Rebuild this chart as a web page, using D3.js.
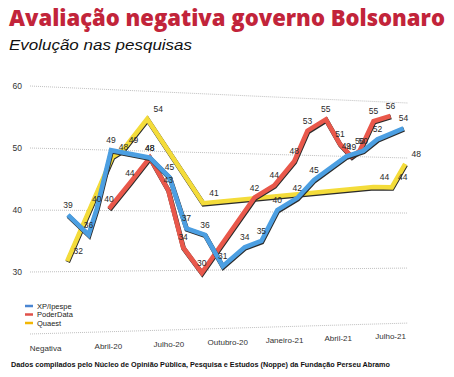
<!DOCTYPE html>
<html>
<head>
<meta charset="utf-8">
<script src="https://cdn.jsdelivr.net/npm/d3@7"></script>
<style>
  body { margin: 0; background: #fff; }
  svg { display: block; }
</style>
</head>
<body>
<div class="container"></div>
<script>
(function() {
  // Chart data
  var tickDates = ['2020-01-01', '2020-04-01', '2020-07-01', '2020-10-01', '2021-01-01', '2021-04-01', '2021-07-01'];
  var tickNames = ['Negativa', 'Abril-20', 'Julho-20', 'Outubro-20', 'Janeiro-21', 'Abril-21', 'Julho-21'];
  var yTickValues = [30, 40, 50, 60];
  var gridValues = [20, 30, 40, 50, 60];
  var seriesNames = ['XP/Ipespe', 'PoderData', 'Quaest'];

  var xpDates = ['2020-02-02', '2020-03-03', '2020-03-15', '2020-04-05', '2020-06-02', '2020-07-02', '2020-07-28',
    '2020-08-26', '2020-09-23', '2020-10-28', '2020-11-24', '2020-12-20', '2021-01-22', '2021-02-19',
    '2021-04-15', '2021-05-14', '2021-06-08', '2021-07-24'];
  var xpValues = [39, 36, 40, 49, 48, 45, 37, 36, 31, 34, 35, 40, 42, 45, 49, 50, 52, 54];

  var poderDates = ['2020-04-02', '2020-05-03', '2020-06-02', '2020-06-30', '2020-07-23', '2020-08-21', '2020-11-13',
    '2020-12-15', '2021-01-17', '2021-02-08', '2021-03-11', '2021-04-04', '2021-04-24', '2021-05-08',
    '2021-06-01', '2021-07-01'];
  var poderValues = [40, 44, 48, 43, 34, 30, 42, 44, 48, 53, 55, 51, 49, 50, 55, 56];

  var quaestDates = ['2020-02-01', '2020-04-07', '2020-04-22', '2020-05-29', '2020-08-23', '2021-06-01', '2021-07-03', '2021-07-27'];
  var quaestValues = [32, 48, 49, 54, 41, 44, 44, 48];

  // Settings
  var options = {
    width: 454,
    height: 377,
    left: 30,      // screen x of the near edge of the wall
    depth: 426,    // horizontal size before the perspective shrink
    shrink: 0.127, // how much the far side shrinks
    horizon: 237
  };

  var parse = d3.timeParse('%Y-%m-%d');

  var t = d3.scaleTime()
    .domain([new Date(2019, 11, 10), new Date(2021, 7, 1)])
    .range([0, 1]);

  // back wall and the ribbons standing a bit in front of it
  var yWall = d3.scaleLinear().domain([20, 60]).range([334, 86]);
  var yRibbon = d3.scaleLinear().domain([20, 60]).range([341.3, 74.7]);

  var project = function(tt, yy) {
    var s = 1 + options.shrink * tt;
    return [options.left + options.depth * tt / s, options.horizon + (yy - options.horizon) / s];
  };

  var series = [
    { name: seriesNames[2], dates: quaestDates, values: quaestValues, color: '#f4dc3a', legend: '#f2b705', dx: 11 },
    { name: seriesNames[1], dates: poderDates, values: poderValues, color: '#e9584b', legend: '#e0514a', dx: 0 },
    { name: seriesNames[0], dates: xpDates, values: xpValues, color: '#4c9fe2', legend: '#4a86d2', dx: 0 }
  ];

  var svg = d3.select('div.container').append('svg')
    .attr('width', options.width)
    .attr('height', options.height)
    .style('font-family', '"Liberation Sans", Arial, sans-serif');

  // Titles
  svg.append('text')
    .attr('x', 9).attr('y', 26)
    .attr('textLength', 436).attr('lengthAdjust', 'spacingAndGlyphs')
    .style('font-family', '"Open Sans", "DejaVu Sans", sans-serif')
    .style('font-weight', 800).style('font-size', '22px')
    .attr('fill', '#c2243a')
    .text('Avaliação negativa governo Bolsonaro');

  svg.append('text')
    .attr('x', 9).attr('y', 50)
    .attr('textLength', 183).attr('lengthAdjust', 'spacingAndGlyphs')
    .style('font-style', 'italic').style('font-size', '15.5px')
    .attr('fill', '#111')
    .text('Evolução nas pesquisas');

  // Gridlines on the wall
  var grid = svg.append('g');
  gridValues.forEach(function(v) {
    var a = project(0, yWall(v)), b = project(1, yWall(v));
    grid.append('line')
      .attr('x1', a[0]).attr('y1', a[1])
      .attr('x2', b[0]).attr('y2', b[1])
      .attr('stroke', '#b8b8b8')
      .attr('stroke-width', 0.9)
      .attr('stroke-dasharray', '1,1');
  });

  // Y axis labels
  svg.append('g').selectAll('text')
    .data(yTickValues)
    .enter().append('text')
    .attr('x', 22)
    .attr('y', function(d) { return project(0, yWall(d))[1]; })
    .attr('text-anchor', 'end')
    .attr('dominant-baseline', 'central')
    .style('font-size', '8.5px')
    .attr('fill', '#333')
    .text(function(d) { return d; });

  // X axis labels, along the floor in perspective
  svg.append('g').selectAll('text')
    .data(tickDates)
    .enter().append('text')
    .attr('x', function(d) { return project(t(parse(d)), yWall(17.5))[0]; })
    .attr('y', function(d) { return project(t(parse(d)), yWall(17.5))[1] - 0.5; })
    .attr('text-anchor', 'middle')
    .attr('dominant-baseline', 'central')
    .style('font-size', '8px')
    .attr('fill', '#333')
    .text(function(d, i) { return tickNames[i]; });

  // Ribbons
  var line = d3.line()
    .x(function(d) { return d.p[0]; })
    .y(function(d) { return d.p[1]; });

  series.forEach(function(s) {
    s.points = s.dates.map(function(d, i) {
      return { v: s.values[i], p: project(t(parse(d)), yRibbon(s.values[i])) };
    });
    var g = svg.append('g');
    // dark side of the ribbon
    g.append('path')
      .datum(s.points)
      .attr('d', line)
      .attr('transform', 'translate(0.5,1)')
      .attr('fill', 'none')
      .attr('stroke', '#2b2b2b')
      .attr('stroke-width', 4.8)
      .attr('stroke-linejoin', 'miter');
    g.append('path')
      .datum(s.points)
      .attr('d', line)
      .attr('fill', 'none')
      .attr('stroke', s.color)
      .attr('stroke-width', 4.6)
      .attr('stroke-linejoin', 'miter');
  });

  // Data labels
  series.forEach(function(s) {
    svg.append('g').selectAll('text')
      .data(s.points)
      .enter().append('text')
      .attr('x', function(d) { return d.p[0] + s.dx; })
      .attr('y', function(d) { return d.p[1] - 10; })
      .attr('text-anchor', 'middle')
      .attr('dominant-baseline', 'central')
      .style('font-size', '8.5px')
      .attr('fill', '#2a2a2a')
      .text(function(d) { return d.v; });
  });

  // Legend
  var legend = svg.append('g');
  seriesNames.forEach(function(name, i) {
    var s = series.filter(function(d) { return d.name === name; })[0];
    var yy = 306 + i * 8.5;
    legend.append('line')
      .attr('x1', 25).attr('x2', 33)
      .attr('y1', yy).attr('y2', yy)
      .attr('stroke', s.legend).attr('stroke-width', 2.5);
    legend.append('text')
      .attr('x', 37).attr('y', yy)
      .attr('dominant-baseline', 'central')
      .style('font-size', '7.5px')
      .attr('fill', '#222')
      .text(name);
  });

  // Source note
  svg.append('text')
    .attr('x', 11).attr('y', 367)
    .attr('textLength', 379).attr('lengthAdjust', 'spacingAndGlyphs')
    .style('font-weight', 'bold').style('font-size', '7.2px')
    .attr('fill', '#111')
    .text('Dados compilados pelo Núcleo de Opinião Pública, Pesquisa e Estudos (Noppe) da Fundação Perseu Abramo');
}).call(this);
</script>
</body>
</html>
